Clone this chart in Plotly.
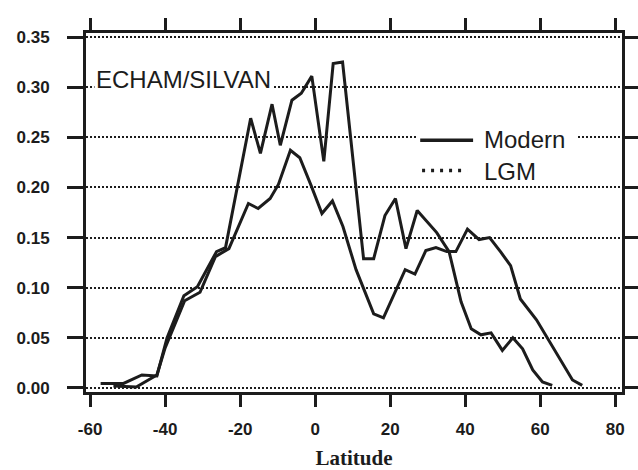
import plotly.graph_objects as go

# Zonal-mean profiles (latitude in degrees, value)
modern_lat = [-57.2, -51.1, -46.2, -42.2, -39.5, -35.0, -31.4, -26.3, -23.9, -17.2,
              -14.6, -11.5, -9.3, -6.2, -3.7, -0.9, 2.3, 4.8, 7.3, 12.9,
              15.6, 18.6, 21.4, 24.2, 27.2, 32.4, 35.7, 38.9, 41.6, 44.2,
              46.9, 49.9, 52.7, 55.3, 58.0, 60.6, 63.2]
modern_val = [0.0045, 0.0045, 0.013, 0.012, 0.050, 0.092, 0.101, 0.136, 0.140, 0.269,
              0.234, 0.283, 0.242, 0.287, 0.294, 0.311, 0.226, 0.3235, 0.325, 0.129,
              0.129, 0.172, 0.189, 0.139, 0.177, 0.155, 0.136, 0.086, 0.059, 0.053,
              0.055, 0.0375, 0.050, 0.039, 0.018, 0.006, 0.0026]

lgm_lat = [-53.8, -47.7, -42.2, -40.0, -34.8, -30.7, -26.6, -23.0, -17.8, -15.2,
           -12.0, -9.8, -6.6, -4.1, -1.1, 1.8, 4.6, 7.4, 10.9, 15.6,
           18.2, 24.0, 26.6, 29.5, 32.2, 35.1, 37.5, 40.6, 43.7, 46.5,
           49.5, 52.1, 54.7, 59.0, 68.6, 71.2]
lgm_val = [0.002, 0.001, 0.013, 0.040, 0.087, 0.0955, 0.131, 0.139, 0.184, 0.179,
           0.189, 0.203, 0.237, 0.2296, 0.202, 0.174, 0.1865, 0.161, 0.118, 0.074,
           0.070, 0.118, 0.1136, 0.137, 0.140, 0.136, 0.136, 0.1585, 0.148, 0.150,
           0.1354, 0.122, 0.0887, 0.068, 0.008, 0.0026]

x_ticks = [-60, -40, -20, 0, 20, 40, 60, 80]
x_tick_labels = ["-60", "-40", "-20", "0", "20", "40", "60", "80"]
y_ticks = [0.00, 0.05, 0.10, 0.15, 0.20, 0.25, 0.30, 0.35]
y_tick_labels = ["0.00", "0.05", "0.10", "0.15", "0.20", "0.25", "0.30", "0.35"]

INK = "#1c1c1c"
SANS = "Liberation Sans, Arial, sans-serif"
SERIF = "Liberation Serif, Times New Roman, serif"

fig = go.Figure()
fig.add_trace(go.Scatter(x=modern_lat, y=modern_val, mode="lines", name="Modern",
                         line=dict(color=INK, width=3), showlegend=False))
fig.add_trace(go.Scatter(x=lgm_lat, y=lgm_val, mode="lines", name="LGM",
                         line=dict(color=INK, width=3), showlegend=False))

# key box: white patch over the grid, a solid and a dotted sample
fig.add_shape(type="rect", xref="x", yref="y", x0=27.2, x1=69.8, y0=0.209, y1=0.267,
              fillcolor="white", line=dict(width=0), layer="above")
fig.add_shape(type="line", xref="x", yref="y", x0=28.0, x1=42.1, y0=0.247, y1=0.247,
              line=dict(color=INK, width=3.5), layer="above")
fig.add_shape(type="line", xref="x", yref="y", x0=28.5, x1=40.5, y0=0.217, y1=0.217,
              line=dict(color=INK, width=3.5, dash="3px,6px"), layer="above")
fig.add_annotation(x=44.6, y=0.248, xref="x", yref="y", text="Modern", showarrow=False,
                   xanchor="left", yanchor="middle", font=dict(family=SANS, size=24, color=INK))
fig.add_annotation(x=44.6, y=0.216, xref="x", yref="y", text="LGM", showarrow=False,
                   xanchor="left", yanchor="middle", font=dict(family=SANS, size=24, color=INK))
fig.add_annotation(x=-59.0, y=0.308, xref="x", yref="y", text="ECHAM/SILVAN", showarrow=False,
                   xanchor="left", yanchor="middle", bgcolor="white",
                   font=dict(family=SANS, size=24, color=INK))

fig.update_layout(
    width=638, height=470,
    margin=dict(l=86, r=16, t=33, b=78),
    paper_bgcolor="white", plot_bgcolor="white",
    showlegend=False,
)
fig.update_xaxes(
    range=[-61.1, 81.8], tickvals=x_ticks, ticktext=x_tick_labels,
    showgrid=False, zeroline=False, automargin=False,
    showline=True, linecolor=INK, linewidth=3, mirror="ticks",
    ticks="outside", ticklen=12, tickwidth=3, tickcolor=INK,
    ticklabelstandoff=8,
    tickfont=dict(family=SANS, size=17, color=INK, weight="bold"),
    title=dict(text="Latitude", standoff=16,
               font=dict(family=SERIF, size=21, color=INK, weight="bold")),
)
fig.update_yaxes(
    range=[-0.004, 0.354], tickvals=y_ticks, ticktext=y_tick_labels,
    showgrid=True, gridcolor=INK, gridwidth=1.5, griddash="2px,2px", zeroline=False,
    automargin=False,
    showline=True, linecolor=INK, linewidth=3, mirror="ticks",
    ticks="outside", ticklen=16, tickwidth=3, tickcolor=INK,
    ticklabelstandoff=14,
    tickfont=dict(family=SANS, size=17, color=INK, weight="bold"),
)

fig.write_html("out.html")
